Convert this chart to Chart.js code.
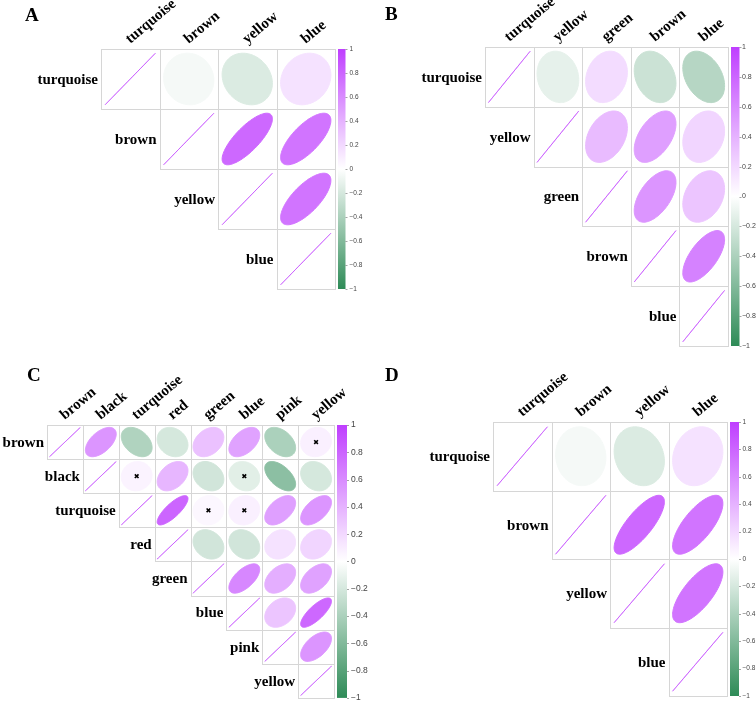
<!DOCTYPE html>
<html>
<head>
<meta charset="utf-8">
<script src="https://cdn.jsdelivr.net/npm/chart.js@4.4.1/dist/chart.umd.min.js"></script>
<style>
  html, body { margin: 0; padding: 0; background: #fff; }
  #page { position: relative; width: 756px; height: 704px; overflow: hidden; }
  #page canvas { position: absolute; left: 0; top: 0; }
  .tag { position: absolute; font: bold 19px "Liberation Serif", "Times New Roman", serif; color: #000; line-height: 19px; }
</style>
</head>
<body>
<div id="page">
  <canvas id="chartA" width="756" height="704"></canvas>
  <canvas id="chartB" width="756" height="704"></canvas>
  <canvas id="chartC" width="756" height="704"></canvas>
  <canvas id="chartD" width="756" height="704"></canvas>
  <div class="tag" style="left:25px;top:5px">A</div>
  <div class="tag" style="left:385px;top:4px">B</div>
  <div class="tag" style="left:27px;top:365px">C</div>
  <div class="tag" style="left:385px;top:365px">D</div>
</div>
<script>
// module names per panel
const namesA = ['turquoise', 'brown', 'yellow', 'blue'];
const namesB = ['turquoise', 'yellow', 'green', 'brown', 'blue'];
const namesC = ['brown', 'black', 'turquoise', 'red', 'green', 'blue', 'pink', 'yellow'];
const namesD = ['turquoise', 'brown', 'yellow', 'blue'];

// upper triangle, each row starts at the diagonal
const corrA = [
  [1, -0.05, -0.17, 0.15],
  [1, 0.78, 0.72],
  [1, 0.72],
  [1]
];
const corrB = [
  [1, -0.12, 0.18, -0.25, -0.35],
  [1, 0.35, 0.5, 0.22],
  [1, 0.55, 0.3],
  [1, 0.65],
  [1]
];
const corrC = [
  [1, 0.55, -0.38, -0.2, 0.32, 0.48, -0.4, 0.08],
  [1, 0.06, 0.38, -0.22, -0.14, -0.55, -0.2],
  [1, 0.8, 0.04, 0.08, 0.5, 0.55],
  [1, -0.22, -0.22, 0.15, 0.22],
  [1, 0.62, 0.42, 0.48],
  [1, 0.3, 0.78],
  [1, 0.55],
  [1]
];
const corrD = [
  [1, -0.05, -0.17, 0.15],
  [1, 0.78, 0.72],
  [1, 0.72],
  [1]
];

// non-significant pairs (marked with a cross)
const insigC = [
  ['brown', 'yellow'],
  ['black', 'turquoise'],
  ['black', 'blue'],
  ['turquoise', 'green'],
  ['turquoise', 'blue']
];

const barTicks = [-1, -0.8, -0.6, -0.4, -0.2, 0, 0.2, 0.4, 0.6, 0.8, 1];

const lowCol = [46, 139, 87];
const highCol = [191, 62, 255];

function corrColor(v) {
  const c = v < 0 ? lowCol : highCol;
  const k = Math.min(Math.abs(v), 1);
  const mix = i => Math.round(255 + (c[i] - 255) * k);
  return `rgb(${mix(0)},${mix(1)},${mix(2)})`;
}

function toCells(corr) {
  const pts = [];
  corr.forEach((row, i) => row.forEach((v, k) => pts.push({x: i + k, y: i, v: v})));
  return pts;
}

const corrPlugin = {
  id: 'corrplot',
  beforeDatasetsDraw(chart, args, opts) {
    const {ctx, chartArea} = chart;
    const xs = chart.scales.x, ys = chart.scales.y, cb = chart.scales.cb;
    const cw = Math.abs(xs.getPixelForValue(1) - xs.getPixelForValue(0));
    const ch = Math.abs(ys.getPixelForValue(1) - ys.getPixelForValue(0));
    const cells = chart.data.datasets[0].data;
    ctx.save();

    // cell borders
    ctx.strokeStyle = '#d6d6d6';
    ctx.lineWidth = 1;
    cells.forEach(p => {
      const l = Math.round(xs.getPixelForValue(p.x - 0.5)) + 0.5;
      const r = Math.round(xs.getPixelForValue(p.x + 0.5)) + 0.5;
      const t = Math.round(ys.getPixelForValue(p.y - 0.5)) + 0.5;
      const b = Math.round(ys.getPixelForValue(p.y + 0.5)) + 0.5;
      ctx.strokeRect(l, t, r - l, b - t);
    });

    // ellipses (corrplot style)
    cells.forEach(p => {
      const cx = xs.getPixelForValue(p.x), cy = ys.getPixelForValue(p.y);
      const d = Math.acos(p.v);
      ctx.beginPath();
      for (let s = 0; s <= 98; s++) {
        const t = s / 98 * 2 * Math.PI;
        const px = cx + Math.cos(t + d / 2) * 0.43 * cw;
        const py = cy - Math.cos(t - d / 2) * 0.43 * ch;
        if (s === 0) ctx.moveTo(px, py); else ctx.lineTo(px, py);
      }
      ctx.closePath();
      ctx.fillStyle = corrColor(p.v);
      ctx.strokeStyle = corrColor(p.v);
      ctx.lineWidth = p.v === 1 ? 0.6 : 1;
      ctx.fill();
      ctx.stroke();
    });

    // row labels, staircase
    ctx.fillStyle = '#000';
    ctx.font = 'bold 15px "Liberation Serif", "Times New Roman", serif';
    ctx.textAlign = 'right';
    ctx.textBaseline = 'middle';
    opts.names.forEach((n, i) => {
      ctx.fillText(n, xs.getPixelForValue(i - 0.5) - 3, ys.getPixelForValue(i) + 1);
    });

    // colour bar
    const x0 = chartArea.right + opts.gap;
    const top = cb.getPixelForValue(1), bot = cb.getPixelForValue(-1);
    const g = ctx.createLinearGradient(0, top, 0, bot);
    g.addColorStop(0, corrColor(1));
    g.addColorStop(0.5, '#ffffff');
    g.addColorStop(1, corrColor(-1));
    ctx.fillStyle = g;
    ctx.fillRect(x0, top, opts.barW, bot - top);
    ctx.strokeStyle = '#666';
    ctx.beginPath();
    barTicks.forEach(v => {
      const y = Math.round(cb.getPixelForValue(v)) + 0.5;
      ctx.moveTo(x0 + opts.barW, y);
      ctx.lineTo(x0 + opts.barW + 2, y);
    });
    ctx.stroke();
    ctx.restore();
  }
};

function makePanel(id, names, corr, insig, box) {
  const n = names.length;
  const cbWidth = box.cbWidth;
  const headH = Math.min(box.top, 70);
  const crosses = insig.map(([a, b]) => ({x: names.indexOf(b), y: names.indexOf(a)}));
  new Chart(document.getElementById(id), {
    type: 'scatter',
    data: {
      datasets: [
        {data: toCells(corr), pointRadius: 0, pointHoverRadius: 0},
        {data: crosses, pointStyle: 'crossRot', pointRadius: 2.6, borderColor: '#000', borderWidth: 1.6, backgroundColor: '#000'}
      ]
    },
    options: {
      responsive: false,
      animation: false,
      events: [],
      layout: {
        padding: {
          left: box.left,
          top: box.top - headH,
          right: 756 - box.right - cbWidth,
          bottom: 704 - box.bottom
        }
      },
      plugins: {
        legend: {display: false},
        tooltip: {enabled: false},
        corrplot: {names: names, gap: 3, barW: box.barW}
      },
      scales: {
        x: {
          type: 'linear',
          position: 'top',
          min: -0.5,
          max: n - 0.5,
          afterBuildTicks: s => { s.ticks = names.map((_, i) => ({value: i})); },
          afterFit: s => { s.height = headH; },
          grid: {display: false, drawTicks: false},
          border: {display: false},
          ticks: {
            autoSkip: false,
            minRotation: 40,
            maxRotation: 40,
            padding: 1,
            labelOffset: 9,
            color: '#000',
            font: {family: '"Liberation Serif", "Times New Roman", serif', size: 15, weight: 'bold'},
            callback: v => names[v]
          }
        },
        y: {
          type: 'linear',
          reverse: true,
          min: -0.5,
          max: n - 0.5,
          display: false
        },
        cb: {
          type: 'linear',
          position: 'right',
          min: -1,
          max: 1,
          afterBuildTicks: s => { s.ticks = barTicks.map(v => ({value: v})); },
          afterFit: s => { s.width = cbWidth; },
          grid: {drawOnChartArea: false, tickLength: 3 + box.barW + box.tickGap, tickColor: 'rgba(0,0,0,0)'},
          border: {display: false},
          ticks: {
            padding: 1,
            color: '#444',
            font: {family: '"Liberation Sans", Arial, sans-serif', size: box.tickSize},
            callback: v => v === 0 ? '0' : (v < 0 ? '\u2212' : '') + Math.abs(v)
          }
        }
      }
    },
    plugins: [corrPlugin]
  });
}

makePanel('chartA', namesA, corrA, [], {left: 101, top: 49, right: 335, bottom: 289, barW: 7.5, cbWidth: 30, tickSize: 6.5, tickGap: 3});
makePanel('chartB', namesB, corrB, [], {left: 485, top: 47, right: 728, bottom: 346, barW: 8.5, cbWidth: 28, tickSize: 7, tickGap: 1.5});
makePanel('chartC', namesC, corrC, insigC, {left: 47, top: 425, right: 334, bottom: 700, barW: 10, cbWidth: 34, tickSize: 8.5, tickGap: 3});
makePanel('chartD', namesD, corrD, [], {left: 493, top: 422, right: 727, bottom: 696, barW: 9, cbWidth: 29, tickSize: 6.5, tickGap: 2.5});
</script>
</body>
</html>
